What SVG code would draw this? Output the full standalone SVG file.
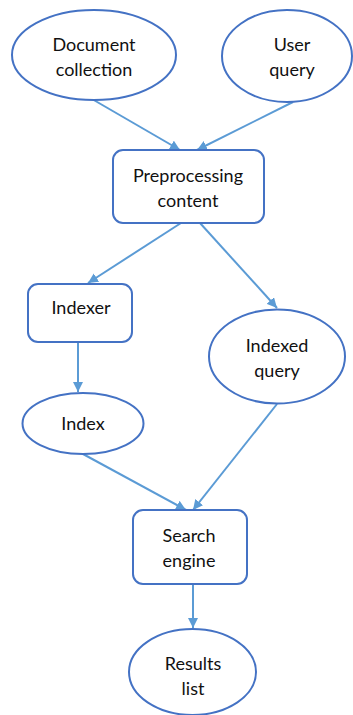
<svg xmlns="http://www.w3.org/2000/svg" width="353" height="715" viewBox="0 0 353 715">
  <style>
    .shape { fill: #ffffff; stroke: #4472C4; stroke-width: 2; }
    .label { font-family: Lato, "Open Sans", "Liberation Sans", sans-serif; font-size: 18px; fill: #111111; text-anchor: middle; }
    .edge { stroke: #5B9BD5; stroke-width: 2; fill: none; marker-end: url(#arrow); }
  </style>
  <defs>
    <marker id="arrow" viewBox="0 0 10 10" refX="10" refY="5" markerWidth="5" markerHeight="5" markerUnits="strokeWidth" orient="auto">
      <path d="M0,0 L10,5 L0,10 Z" fill="#5B9BD5"/>
    </marker>
  </defs>
  <rect width="353" height="715" fill="#ffffff"/>

  <g id="connectors">
    <line class="edge" x1="92" y1="99" x2="180" y2="150"/>
    <line class="edge" x1="293" y1="102" x2="197" y2="150"/>
    <line class="edge" x1="181" y1="223" x2="88" y2="283"/>
    <line class="edge" x1="200" y1="223" x2="277" y2="308"/>
    <line class="edge" x1="78" y1="342" x2="78" y2="392"/>
    <line class="edge" x1="83" y1="454" x2="186" y2="510"/>
    <line class="edge" x1="277" y1="404" x2="193" y2="510"/>
    <line class="edge" x1="193" y1="584" x2="193" y2="628"/>
  </g>

  <g id="document-collection">
    <ellipse class="shape" cx="94" cy="55" rx="82" ry="45"/>
    <text class="label" x="94" y="51">Document</text>
    <text class="label" x="94" y="76">collection</text>
  </g>

  <g id="user-query">
    <ellipse class="shape" cx="287" cy="56" rx="65" ry="46"/>
    <text class="label" x="292" y="51">User</text>
    <text class="label" x="292" y="76">query</text>
  </g>

  <g id="preprocessing-content">
    <rect class="shape" x="113" y="150" width="151" height="73" rx="10"/>
    <text class="label" x="188" y="182">Preprocessing</text>
    <text class="label" x="188" y="207">content</text>
  </g>

  <g id="indexer">
    <rect class="shape" x="28" y="284" width="104" height="58" rx="10"/>
    <text class="label" x="81" y="314">Indexer</text>
  </g>

  <g id="indexed-query">
    <ellipse class="shape" cx="277" cy="356.5" rx="68" ry="47"/>
    <text class="label" x="277" y="352">Indexed</text>
    <text class="label" x="277" y="377">query</text>
  </g>

  <g id="index">
    <ellipse class="shape" cx="83" cy="423.5" rx="60.5" ry="30.5"/>
    <text class="label" x="83" y="430">Index</text>
  </g>

  <g id="search-engine">
    <rect class="shape" x="133" y="510" width="114" height="74" rx="10"/>
    <text class="label" x="189" y="542">Search</text>
    <text class="label" x="189" y="567">engine</text>
  </g>

  <g id="results-list">
    <ellipse class="shape" cx="192.5" cy="672" rx="63.5" ry="43"/>
    <text class="label" x="193" y="670">Results</text>
    <text class="label" x="193" y="695">list</text>
  </g>
</svg>
